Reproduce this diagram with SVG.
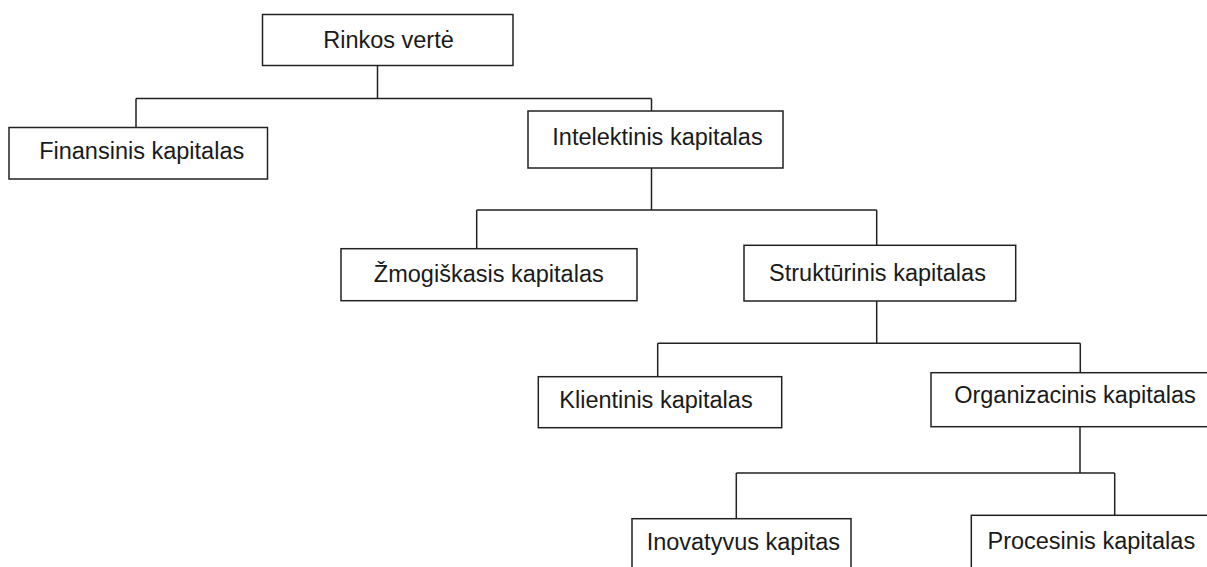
<svg xmlns="http://www.w3.org/2000/svg" width="1207" height="567" viewBox="0 0 1207 567">
  <style>
    .box { fill: #ffffff; stroke: #222222; stroke-width: 1.5; }
    .lbl { font-family: "Liberation Sans", Arial, sans-serif; font-size: 23.5px; fill: #1a1a1a; text-anchor: middle; }
    .wire { fill: none; stroke: #222222; stroke-width: 1.5; }
  </style>
  <rect width="1207" height="567" fill="#ffffff"/>

  <!-- tree connectors -->
  <g id="connectors">
    <path class="wire" d="M377.5 65.5 V98.5 M136 98.5 H651.5 M136 98.5 V127.5 M651.5 98.5 V111"/>
    <path class="wire" d="M651.5 168 V210 M476.7 210 H876.7 M476.7 210 V248.7 M876.7 210 V245.3"/>
    <path class="wire" d="M876.7 301 V344 M657.7 343.3 H1080.3 M657.7 343.3 V376.7 M1080.3 343.3 V372.7"/>
    <path class="wire" d="M1080 426.7 V473 M736.3 473 H1114.7 M736.3 473 V518.7 M1114.7 473 V515.3"/>
  </g>

  <g id="rinkos-verte">
    <rect class="box" x="262.5" y="14.5" width="250.5" height="51"/>
    <text class="lbl" x="388.5" y="48.3">Rinkos vertė</text>
  </g>
  <g id="finansinis">
    <rect class="box" x="9" y="127.5" width="258.5" height="51.5"/>
    <text class="lbl" x="141.7" y="159.3">Finansinis kapitalas</text>
  </g>
  <g id="intelektinis">
    <rect class="box" x="528" y="111" width="255" height="57"/>
    <text class="lbl" x="657.5" y="145">Intelektinis kapitalas</text>
  </g>
  <g id="zmogiskasis">
    <rect class="box" x="341" y="248.7" width="296" height="52"/>
    <text class="lbl" x="488.8" y="281.7">Žmogiškasis kapitalas</text>
  </g>
  <g id="strukturinis">
    <rect class="box" x="744" y="245.3" width="271.7" height="55.7"/>
    <text class="lbl" x="877.5" y="280.7">Struktūrinis kapitalas</text>
  </g>
  <g id="klientinis">
    <rect class="box" x="538.3" y="376.7" width="243.4" height="51"/>
    <text class="lbl" x="656" y="408.3">Klientinis kapitalas</text>
  </g>
  <g id="organizacinis">
    <rect class="box" x="931" y="372.7" width="290" height="54"/>
    <text class="lbl" x="1075" y="402.7">Organizacinis kapitalas</text>
  </g>
  <g id="inovatyvus">
    <rect class="box" x="632" y="518.7" width="219" height="60"/>
    <text class="lbl" x="743.3" y="550">Inovatyvus kapitas</text>
  </g>
  <g id="procesinis">
    <rect class="box" x="971.3" y="515.3" width="250" height="60"/>
    <text class="lbl" x="1091.3" y="549.3">Procesinis kapitalas</text>
  </g>
</svg>
